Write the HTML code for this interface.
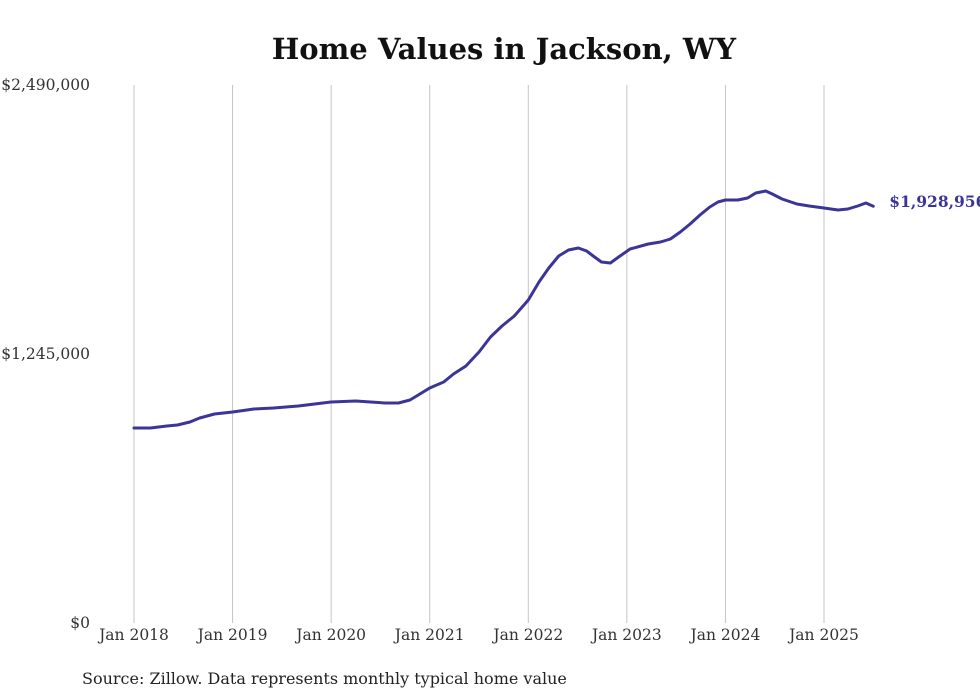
<!DOCTYPE html>
<html><head><meta charset="utf-8"><style>
body{margin:0;background:#fff;width:980px;height:699px;overflow:hidden}
svg{display:block}
</style></head><body>
<svg id="chart" width="980" height="699">
<text x="504" y="59" text-anchor="middle" font-family="'DejaVu Serif','Liberation Serif',serif" font-weight="bold" font-size="29" fill="#111">Home Values in Jackson, WY</text>
<g id="grid"></g><g id="yaxis"></g><g id="xaxis"></g><g id="series"></g>
<text x="82" y="684" font-family="'DejaVu Serif','Liberation Serif',serif" font-size="16" fill="#222">Source: Zillow. Data represents monthly typical home value</text>
</svg>
<script>
const monthOffsets=[0,2,4,5.3,6.8,8,9.8,12,14.6,17,20,24,27,28.8,30.6,32.2,33.6,34.8,36,37.7,38.9,40.4,42,43.4,44.8,46.3,48,49.3,50.5,51.7,52.9,54.1,55.1,55.9,56.9,58,59,60.4,62.6,64.1,65.3,66.5,67.7,68.9,70.1,71.1,72,73.5,74.7,75.7,76.9,77.7,78.9,80.7,82.2,84,85.7,86.9,88.1,89.1,90];
const values=[902500,902500,911800,916400,930300,948800,967300,976600,990500,995100,1004300,1022900,1027500,1022900,1018200,1018200,1032100,1059900,1087600,1115400,1152400,1189500,1254300,1323700,1374600,1420900,1494900,1578200,1643100,1698600,1726400,1735600,1721700,1698600,1670800,1666200,1694000,1731000,1754200,1763400,1777300,1809700,1846700,1888400,1925400,1948600,1957800,1957800,1967100,1990200,1999500,1985600,1962400,1939300,1930000,1920800,1911500,1916100,1930000,1943900,1928956];
const yTicks=[0,1245000,2490000];
const yTickLabels=["$0","$1,245,000","$2,490,000"];
const xTickMonths=[0,12,24,36,48,60,72,84];
const xTickLabels=["Jan 2018","Jan 2019","Jan 2020","Jan 2021","Jan 2022","Jan 2023","Jan 2024","Jan 2025"];
const lastLabel="$1,928,956";
const NS="http://www.w3.org/2000/svg";
const x=m=>134+m*(690/84);
const y=v=>623-v*(538/2490000);
function mk(t,a,p){const e=document.createElementNS(NS,t);for(const k in a)e.setAttribute(k,a[k]);p.appendChild(e);return e;}
const grid=document.getElementById('grid'),ya=document.getElementById('yaxis'),xa=document.getElementById('xaxis'),se=document.getElementById('series');
xTickMonths.forEach((m,i)=>{
 const l=mk('line',{x1:x(m),x2:x(m),y1:85,y2:623,stroke:'#c4c4c4','stroke-width':1},grid);
 
 
 const t=mk('text',{x:x(m),y:640,'text-anchor':'middle','font-family':"'DejaVu Serif','Liberation Serif',serif",'font-size':15.5,fill:'#333'},xa);
 t.textContent=xTickLabels[i];
 
 
});
yTicks.forEach((v,i)=>{
 const t=mk('text',{x:90,y:y(v)+5,'text-anchor':'end','font-family':"'DejaVu Serif','Liberation Serif',serif",'font-size':15.5,fill:'#333'},ya);
 t.textContent=yTickLabels[i];
 
 
});
let d='';
monthOffsets.forEach((m,i)=>{d+=(i?'L':'M')+x(m).toFixed(1)+','+y(values[i]).toFixed(1);});
const p=mk('path',{d:d,fill:'none',stroke:'#3b3598','stroke-width':3,'stroke-linejoin':'round','stroke-linecap':'round'},se);


const lm=monthOffsets[monthOffsets.length-1],lv=values[values.length-1];
const lt=mk('text',{x:x(lm)+16,y:y(lv)+1,'font-family':"'DejaVu Serif','Liberation Serif',serif",'font-size':15.5,'font-weight':'bold',fill:'#3b3598'},se);
lt.textContent=lastLabel;


</script>
</body></html>
